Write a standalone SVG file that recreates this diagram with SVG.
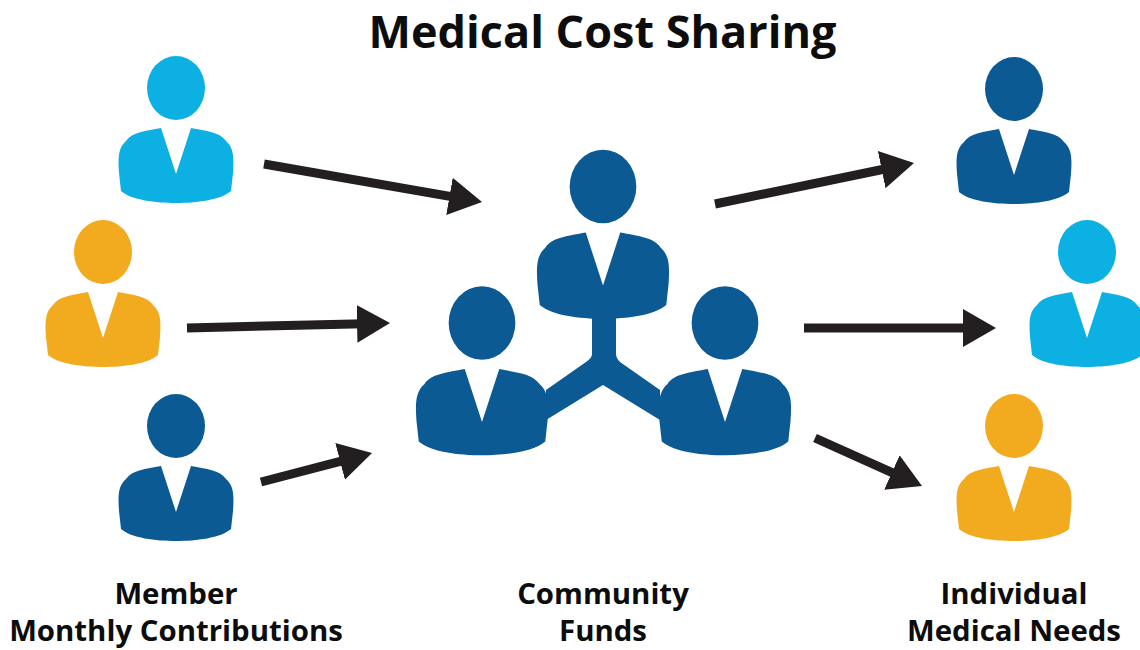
<svg xmlns="http://www.w3.org/2000/svg" xmlns:xlink="http://www.w3.org/1999/xlink" width="1140" height="650" viewBox="0 0 1140 650">
<style>
.t{font-family:"Open Sans","Noto Sans","Liberation Sans",sans-serif;font-weight:700;fill:#0d0d0d;text-anchor:middle}
.title{font-size:45px}
.lab{font-size:29.4px}
.dark{fill:#0b5a94}
.cyan{fill:#0cb0e3}
.orange{fill:#f2ab1f}
.arrow{stroke:#231f20;stroke-width:9;fill:none;marker-end:url(#head)}
</style>
<defs>
<marker id="head" markerUnits="strokeWidth" markerWidth="5" markerHeight="5" refX="2" refY="2.5" viewBox="0 0 5 5" orient="auto">
<path d="M0,0.4L3.67,2.5L0,4.6Z" fill="#231f20"/>
</marker>
<g id="person">
<ellipse cx="0" cy="0" rx="29" ry="32"/>
<path d="M-15,40L0,86L15,40C30,43 44,44 50,53C58,60 58,70 57,85L55,103C45,112 20,115 0,115C-20,115 -45,112 -55,103L-57,85C-58,70 -58,60 -50,53C-44,44 -30,43 -15,40Z"/>
</g>
</defs>
<g id="title"><text class="t title" x="602.5" y="48">Medical Cost Sharing</text></g>
<g id="connectors">
<line class="arrow" x1="264" y1="164" x2="467.2" y2="199.4"/>
<line class="arrow" x1="187" y1="328" x2="375" y2="323.4"/>
<line class="arrow" x1="261" y1="482" x2="357.5" y2="456.8"/>
<line class="arrow" x1="715" y1="204" x2="899.3" y2="166"/>
<line class="arrow" x1="804" y1="328" x2="981" y2="328"/>
<line class="arrow" x1="815" y1="438" x2="908.3" y2="479.9"/>
</g>
<g id="member-cyan" class="cyan"><use xlink:href="#person" href="#person" transform="translate(176,88)"/></g>
<g id="member-orange" class="orange"><use xlink:href="#person" href="#person" transform="translate(103,252)"/></g>
<g id="member-dark" class="dark"><use xlink:href="#person" href="#person" transform="translate(176,426)"/></g>
<g id="community" class="dark">
<path d="M592,310L592,354Q592,358 586,362L546,390L546,420L603,385L660,420L660,390L620,362Q616,358 616,354L616,310Z"/>
<use xlink:href="#person" href="#person" transform="translate(603,186.5) scale(1.15)"/>
<use xlink:href="#person" href="#person" transform="translate(482,323) scale(1.15)"/>
<use xlink:href="#person" href="#person" transform="translate(725,323) scale(1.15)"/>
</g>
<g id="need-dark" class="dark"><use xlink:href="#person" href="#person" transform="translate(1014,89)"/></g>
<g id="need-cyan" class="cyan"><use xlink:href="#person" href="#person" transform="translate(1087,252)"/></g>
<g id="need-orange" class="orange"><use xlink:href="#person" href="#person" transform="translate(1014,426)"/></g>
<g id="label-member"><text class="t lab" x="176" y="604">Member</text><text class="t lab" x="176" y="641">Monthly Contributions</text></g>
<g id="label-community"><text class="t lab" x="603" y="604">Community</text><text class="t lab" x="603" y="641">Funds</text></g>
<g id="label-needs"><text class="t lab" x="1014" y="604">Individual</text><text class="t lab" x="1014" y="641">Medical Needs</text></g>
</svg>
